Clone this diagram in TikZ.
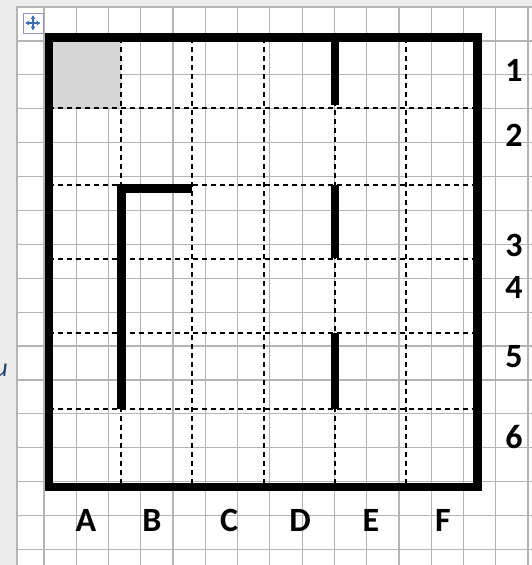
\documentclass[tikz,border=0pt]{standalone}
\usepackage{fontspec}
\setmainfont{Carlito}
\usetikzlibrary{arrows.meta}
\definecolor{paperline}{HTML}{B4B4B4}
\definecolor{sidegray}{HTML}{ECECEC}
\definecolor{cellgray}{HTML}{D6D6D6}
\definecolor{handleblue}{HTML}{3A6DB5}
\tikzset{
  wall/.style={line width=8.5pt},
  roomline/.style={line width=1.4pt, dash pattern=on 5pt off 4pt},
  lbl/.style={font=\fontsize{34}{36}\selectfont\bfseries, inner sep=0pt}
}
\begin{document}
\begin{tikzpicture}[x=1pt, y=-1pt]
  \useasboundingbox (0,0) rectangle (532,565);
  % page background and graph paper
  \fill[sidegray] (0,0) rectangle (532,565);
  \fill[white] (17,6) rectangle (532,565);
  \foreach \i in {0,...,15}
    \draw[paperline, line width=1.2pt] ({44+32.27*\i},6) -- ({44+32.27*\i},565);
  \draw[paperline, line width=1.2pt] (17,6) -- (17,565);
  \foreach \j in {0,...,16}
    \draw[paperline, line width=1.2pt] (17,{7+33.9*\j}) -- (532,{7+33.9*\j});
  % table handle
  \node (handle) at (33,23) [draw=paperline!80!blue, fill=white, minimum size=20pt, inner sep=0pt]{};
  \draw[handleblue, line width=1.3pt, <->, >={Stealth[length=4pt,width=5pt]}] (handle.west) ++(2.5,0) -- ++(15,0);
  \draw[handleblue, line width=1.3pt, <->, >={Stealth[length=4pt,width=5pt]}] (handle.north) ++(0,2.5) -- ++(0,15);
  \node (cut) at (1,370) [text=handleblue!60!black, font=\fontsize{26}{28}\selectfont\itshape]{u};
  % start cell
  \fill[cellgray] (53,42) rectangle (121,108);
  % dashed room lines
  \draw[roomline] (121,37.5) -- (121,487);
  \draw[roomline] (192,37.5) -- (192,487);
  \draw[roomline] (264,37.5) -- (264,487);
  \draw[roomline] (335,37.5) -- (335,487);
  \draw[roomline] (406,37.5) -- (406,487);
  \draw[roomline] (49,108) -- (477.5,108);
  \draw[roomline] (49,185) -- (477.5,185);
  \draw[roomline] (49,259) -- (477.5,259);
  \draw[roomline] (49,333) -- (477.5,333);
  \draw[roomline] (49,409) -- (477.5,409);
  % outer walls
  \draw[wall] (49,37.5) rectangle (477.5,487);
  % inner walls
  \draw[wall] (335,40) -- (335,105);
  \draw[wall] (335,185) -- (335,258);
  \draw[wall] (335,333) -- (335,409);
  \draw[wall] (192,188.5) -| (121.5,409);
  % row numbers
  \node[lbl] (r1) at (514,70){1};
  \node[lbl] (r2) at (514,135){2};
  \node[lbl] (r3) at (514,245){3};
  \node[lbl] (r4) at (514,287){4};
  \node[lbl] (r5) at (514,357){5};
  \node[lbl] (r6) at (514,437){6};
  % column letters
  \node[lbl] (cA) at (86,520){A};
  \node[lbl] (cB) at (152,520){B};
  \node[lbl] (cC) at (229,520){C};
  \node[lbl] (cD) at (300,520){D};
  \node[lbl] (cE) at (371,520){E};
  \node[lbl] (cF) at (443,520){F};
\end{tikzpicture}
\end{document}
